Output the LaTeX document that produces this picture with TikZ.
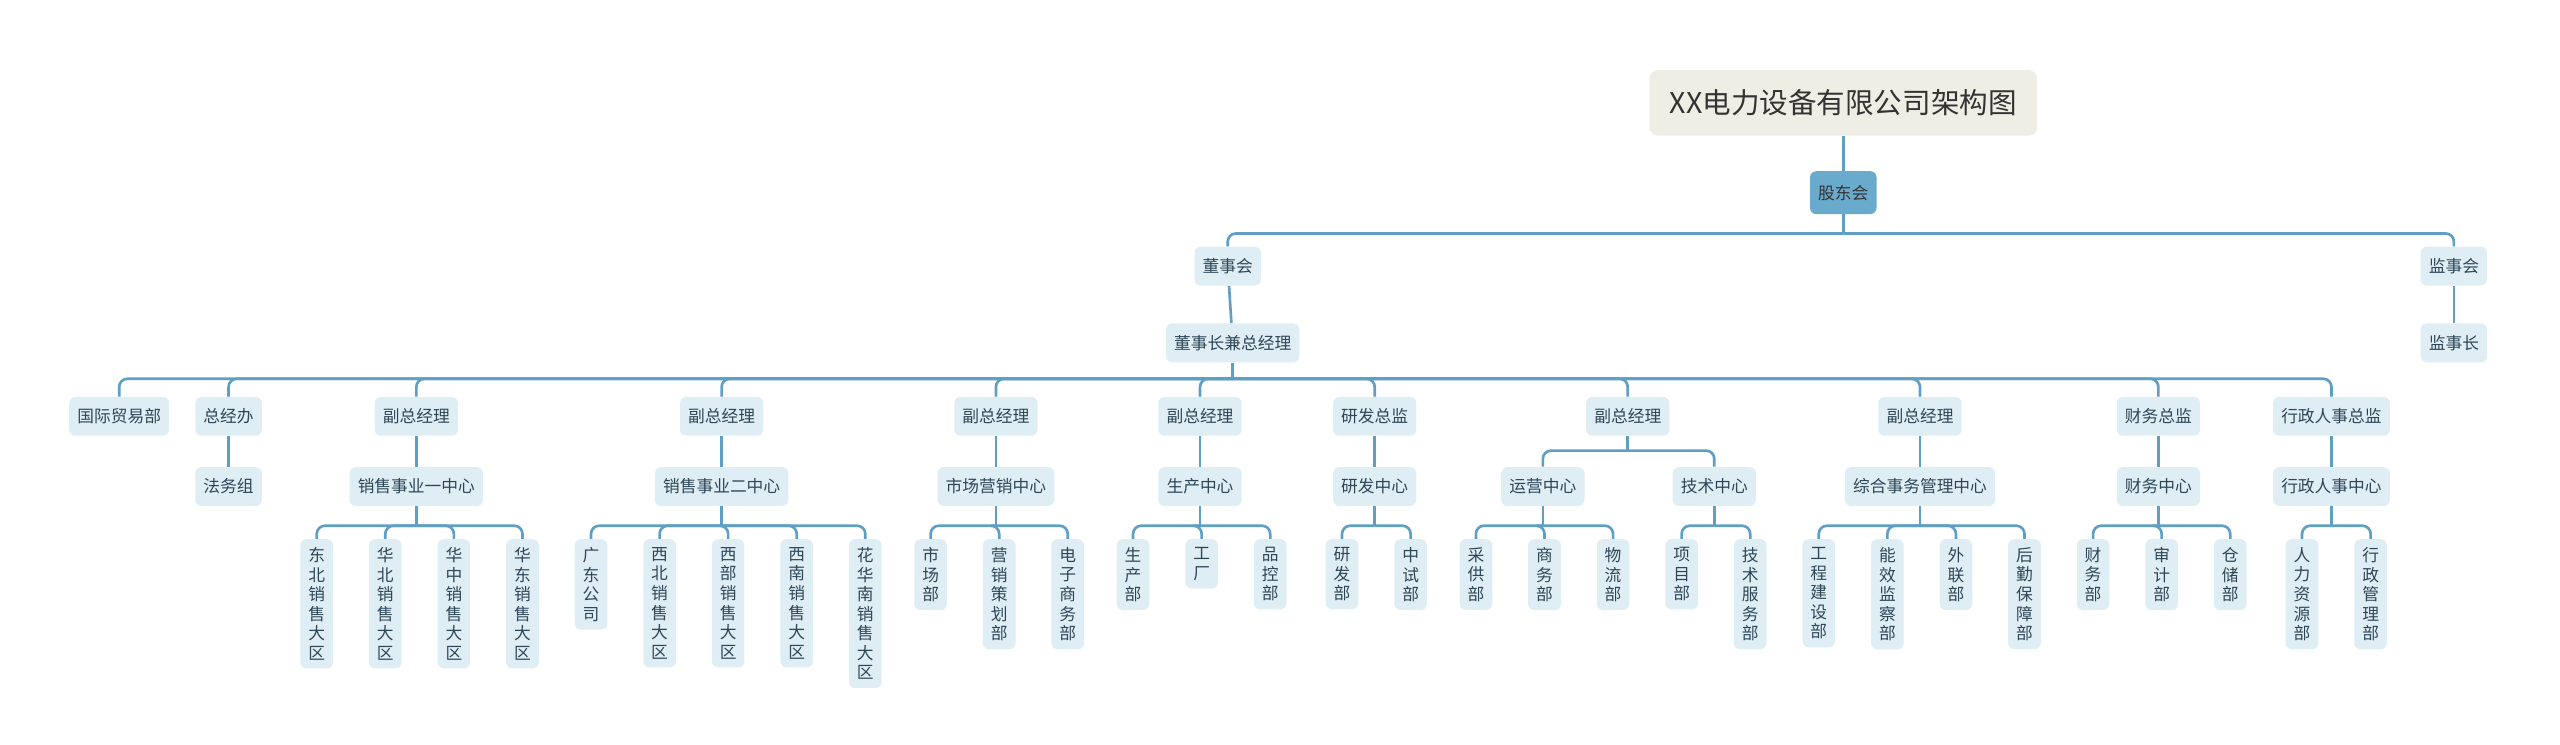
\documentclass[tikz,border=0pt]{standalone}
\usepackage{fontspec}
\setmainfont{Noto Sans CJK SC}
\definecolor{ln}{HTML}{5F9FC4}
\definecolor{lf}{HTML}{DFEDF5}
\definecolor{tx}{HTML}{2E4757}
\definecolor{tt}{HTML}{EFEEE5}
\definecolor{rt}{HTML}{6AAACD}
\tikzset{
 ln/.style={draw=ln,line width=1.3pt},
 bx/.style={fill=lf,rounded corners=3pt,text=tx,font=\fontsize{8.2}{10}\selectfont,inner xsep=4pt,minimum height=19pt},
 lv/.style={bx,anchor=north,text width=9pt,align=center,inner xsep=3.5pt,inner ysep=4pt,font=\fontsize{8.2}{9.6}\selectfont}
}
\newcommand\fan[3]{\draw[ln] (#1.south) -- (#1.south |- 0,#2);
 \foreach \c in {#3}{\draw[ln,rounded corners=4pt] (#1.south |- 0,#2) -| (\c.north);}}
\begin{document}
\begin{tikzpicture}[x=0.8pt,y=-0.8pt]
\useasboundingbox (0,0) rectangle (1568,456);
\node[fill=tt,rounded corners=4pt,text=black!80,font=\fontsize{14}{16}\selectfont,minimum width=190pt,minimum height=32pt] (t) at (1129,63) {XX电力设备有限公司架构图};
\node[bx,fill=rt,text=black!80,minimum height=21pt] (g) at (1129,118) {股东会};
\node[bx] (d) at (752,163) {董事会};
\node[bx] (j) at (1503,163) {监事会};
\node[bx] (jz) at (1503,210) {监事长};
\node[bx] (z) at (755,210) {董事长兼总经理};
\draw[ln] (t) -- (g);
\fan{g}{143}{d,j}
\draw[ln] (d) -- (z); \draw[ln] (j) -- (jz);
% level 3
\node[bx] (a1) at (73,255) {国际贸易部};
\node[bx] (a2) at (140,255) {总经办};
\node[bx] (a3) at (255,255) {副总经理};
\node[bx] (a4) at (442,255) {副总经理};
\node[bx] (a5) at (610,255) {副总经理};
\node[bx] (a6) at (735,255) {副总经理};
\node[bx] (a7) at (842,255) {研发总监};
\node[bx] (a8) at (997,255) {副总经理};
\node[bx] (a9) at (1176,255) {副总经理};
\node[bx] (a10) at (1322,255) {财务总监};
\node[bx] (a11) at (1428,255) {行政人事总监};
\fan{z}{232}{a1,a2,a3,a4,a5,a6,a7,a8,a9,a10,a11}
% level 4
\node[bx] (b2) at (140,298) {法务组};
\node[bx] (b3) at (255,298) {销售事业一中心};
\node[bx] (b4) at (442,298) {销售事业二中心};
\node[bx] (b5) at (610,298) {市场营销中心};
\node[bx] (b6) at (735,298) {生产中心};
\node[bx] (b7) at (842,298) {研发中心};
\node[bx] (b8a) at (945,298) {运营中心};
\node[bx] (b8b) at (1050,298) {技术中心};
\node[bx] (b9) at (1176,298) {综合事务管理中心};
\node[bx] (b10) at (1322,298) {财务中心};
\node[bx] (b11) at (1428,298) {行政人事中心};
\foreach \p/\q in {a2/b2,a3/b3,a4/b4,a5/b5,a6/b6,a7/b7,a9/b9,a10/b10,a11/b11}{\draw[ln] (\p) -- (\q);}
\fan{a8}{276}{b8a,b8b}
% leaves
\node[lv] (c1) at (194,330) {东\\北\\销\\售\\大\\区};
\node[lv] (c2) at (236,330) {华\\北\\销\\售\\大\\区};
\node[lv] (c3) at (278,330) {华\\中\\销\\售\\大\\区};
\node[lv] (c4) at (320,330) {华\\东\\销\\售\\大\\区};
\fan{b3}{322}{c1,c2,c3,c4}
\node[lv] (d1) at (362,330) {广\\东\\公\\司};
\node[lv] (d2) at (404,330) {西\\北\\销\\售\\大\\区};
\node[lv] (d3) at (446,330) {西\\部\\销\\售\\大\\区};
\node[lv] (d4) at (488,330) {西\\南\\销\\售\\大\\区};
\node[lv] (d5) at (530,330) {花\\华\\南\\销\\售\\大\\区};
\fan{b4}{322}{d1,d2,d3,d4,d5}
\node[lv] (e1) at (570,330) {市\\场\\部};
\node[lv] (e2) at (612,330) {营\\销\\策\\划\\部};
\node[lv] (e3) at (654,330) {电\\子\\商\\务\\部};
\fan{b5}{322}{e1,e2,e3}
\node[lv] (f1) at (694,330) {生\\产\\部};
\node[lv] (f2) at (736,330) {工\\厂};
\node[lv] (f3) at (778,330) {品\\控\\部};
\fan{b6}{322}{f1,f2,f3}
\node[lv] (g1) at (822,330) {研\\发\\部};
\node[lv] (g2) at (864,330) {中\\试\\部};
\fan{b7}{322}{g1,g2}
\node[lv] (h1) at (904,330) {采\\供\\部};
\node[lv] (h2) at (946,330) {商\\务\\部};
\node[lv] (h3) at (988,330) {物\\流\\部};
\fan{b8a}{322}{h1,h2,h3}
\node[lv] (i1) at (1030,330) {项\\目\\部};
\node[lv] (i2) at (1072,330) {技\\术\\服\\务\\部};
\fan{b8b}{322}{i1,i2}
\node[lv] (k1) at (1114,330) {工\\程\\建\\设\\部};
\node[lv] (k2) at (1156,330) {能\\效\\监\\察\\部};
\node[lv] (k3) at (1198,330) {外\\联\\部};
\node[lv] (k4) at (1240,330) {后\\勤\\保\\障\\部};
\fan{b9}{322}{k1,k2,k3,k4}
\node[lv] (m1) at (1282,330) {财\\务\\部};
\node[lv] (m2) at (1324,330) {审\\计\\部};
\node[lv] (m3) at (1366,330) {仓\\储\\部};
\fan{b10}{322}{m1,m2,m3}
\node[lv] (n1) at (1410,330) {人\\力\\资\\源\\部};
\node[lv] (n2) at (1452,330) {行\\政\\管\\理\\部};
\fan{b11}{322}{n1,n2}
\end{tikzpicture}
\end{document}
